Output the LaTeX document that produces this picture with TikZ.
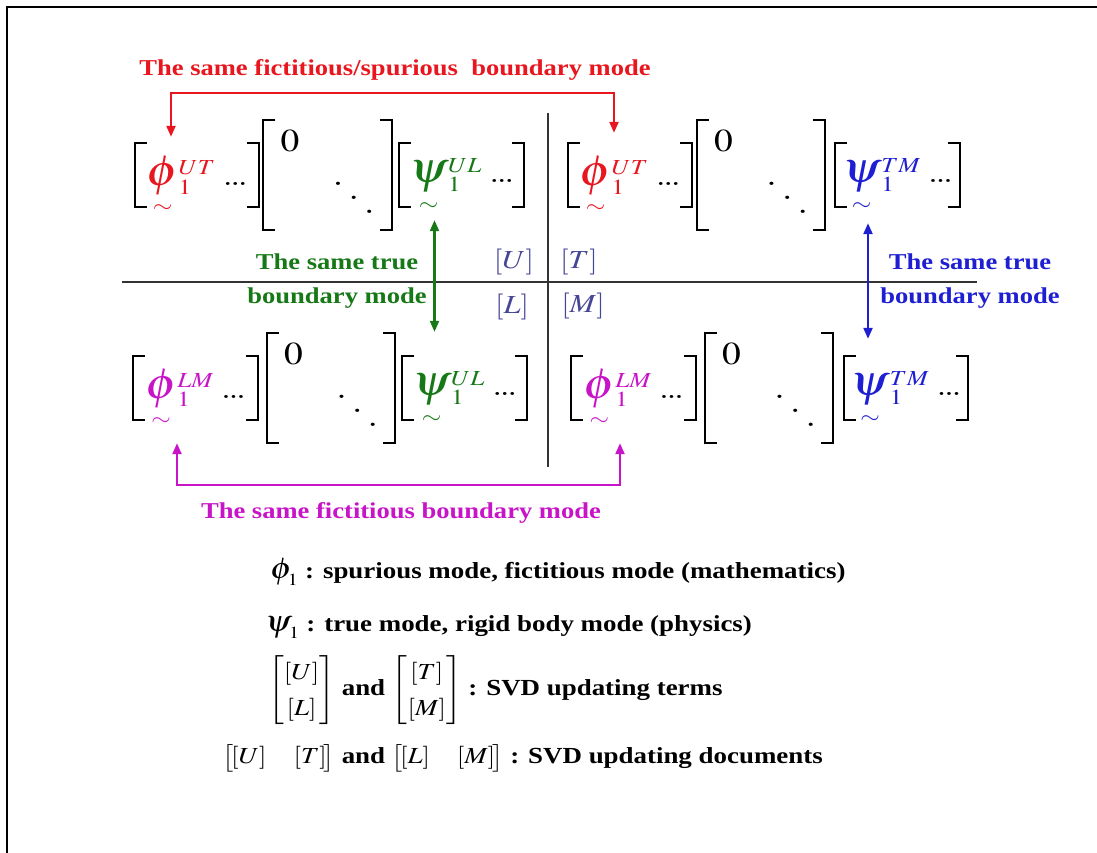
\documentclass[tikz,border=0pt]{standalone}
\usepackage{amsmath}
\usepackage{mathptmx}
\usepackage[no-math]{fontspec}
\setmainfont{Liberation Serif}[FakeStretch=1.17]
\usepackage{graphicx}
\usetikzlibrary{arrows.meta}

\definecolor{spurred}{RGB}{232,22,30}
\definecolor{truegreen}{RGB}{22,120,22}
\definecolor{trueblue}{RGB}{30,30,210}
\definecolor{fictmag}{RGB}{200,20,200}
\definecolor{blockblue}{RGB}{70,70,150}

\newcommand{\wide}[1]{\scalebox{1.17}[1]{#1}}
\newcommand{\bigsym}[2][1.5]{\mathord{\scalebox{#1}{$#2$}}}
\newcommand{\modev}[3]{{\color{#1}\smash[b]{\underset{\sim}{\bigsym{#2}}}_1^{#3}}}
\newcommand{\rdots}{\mathinner{{.}\mkern-1mu{.}\mkern-1mu{.}}}
\newcommand{\ddiag}{\mathinner{\raisebox{0.88em}{$.$}\mkern2.5mu\raisebox{0.44em}{$.$}\mkern2.5mu{.}}}
\newcommand{\zeromat}{\wide{$\begin{array}{@{}l@{\hspace{0.9em}}r@{}}0&\\[0.6em]&\ddiag\end{array}$}}

\begin{document}
\begin{tikzpicture}[x=1pt,y=-1pt,
  vec/.style={inner sep=0pt,minimum width=124pt,minimum height=64pt,font=\fontsize{29}{35}\selectfont},
  zero/.style={inner sep=0pt,minimum width=128pt,minimum height=110pt,font=\fontsize{32}{38}\selectfont},
  brk/.style={line width=1.8pt},
  note/.style={inner sep=0pt,align=center,font=\fontsize{22.7}{34}\selectfont\bfseries},
  legend/.style={inner sep=0pt,font=\fontsize{23}{28}\selectfont\bfseries},
  block/.style={inner sep=0pt,text=blockblue,font=\fontsize{26}{30}\selectfont},
  both/.style={line width=2.2pt,{Triangle[length=11pt,width=9pt]}-{Triangle[length=11pt,width=9pt]}},
  axisline/.style={line width=1.3pt,black!80}]
\useasboundingbox (0,0) rectangle (1097,853);
% frame
\draw[line width=2.4pt] (7,853) -- (7,6.8) -- (1097,6.8);

% upper blocks
\node[vec] (phiUTa) at (197,175) {\wide{$\modev{spurred}{\phi}{UT}\,\rdots$}};
\node[zero] (zeroA) at (327.5,175) {\zeromat};
\node[vec] (psiULa) at (461.5,175) {\wide{$\modev{truegreen}{\psi}{UL}\,\rdots$}};
\node[vec] (phiUTb) at (630,175) {\wide{$\modev{spurred}{\phi}{UT}\,\rdots$}};
\node[zero] (zeroB) at (761,175) {\zeromat};
\node[vec] (psiTMa) at (897.5,175) {\wide{$\modev{trueblue}{\psi}{TM}\,\rdots$}};

% lower blocks
\node[vec] (phiLMa) at (195.5,388) {\wide{$\modev{fictmag}{\phi}{LM}\,\rdots$}};
\node[zero] (zeroC) at (331,388) {\zeromat};
\node[vec] (psiULb) at (464.5,388) {\wide{$\modev{truegreen}{\psi}{UL}\,\rdots$}};
\node[vec] (phiLMb) at (633.5,388) {\wide{$\modev{fictmag}{\phi}{LM}\,\rdots$}};
\node[zero] (zeroD) at (769,388) {\zeromat};
\node[vec] (psiTMb) at (906,388) {\wide{$\modev{trueblue}{\psi}{TM}\,\rdots$}};

\foreach \m in {phiUTa,zeroA,psiULa,phiUTb,zeroB,psiTMa,phiLMa,zeroC,psiULb,phiLMb,zeroD,psiTMb}{
  \draw[brk] ([xshift=12pt]\m.north west) -| (\m.south west) -- ++(12,0);
  \draw[brk] ([xshift=-12pt]\m.north east) -| (\m.south east) -- ++(-12,0);
}

% block partition
\draw[axisline] (122,282) -- (977,282);
\draw[axisline] (548,113) -- (548,467);
\node[block] (blkU) at (514,262) {\wide{$[U]$}};
\node[block] (blkL) at (512,307) {\wide{$[L]$}};
\node[block] (blkT) at (579,262) {\wide{$[T]$}};
\node[block] (blkM) at (583,306) {\wide{$[M]$}};

% same modes
\node[note,text=spurred] (redtitle) at (395,70) {The same fictitious/spurious\ \ boundary mode};
\coordinate (redtop) at (400,93);
\draw[both,spurred] ([xshift=-26pt,yshift=6pt]phiUTa.north) |- (redtop) -| ([xshift=-16pt,yshift=10pt]phiUTb.north);

\node[note,text=truegreen] (greennote) at (337,281) {The same true\\boundary mode};
\draw[both,truegreen] ([xshift=-27pt,yshift=-13pt]psiULa.south) -- ([xshift=-30pt,yshift=24pt]psiULb.north);

\node[note,text=trueblue] (bluenote) at (970,281) {The same true\\boundary mode};
\draw[both,trueblue] ([xshift=-29.5pt,yshift=-16pt]psiTMa.south) -- ([xshift=-38pt,yshift=17pt]psiTMb.north);

\coordinate (magbot) at (400,485);
\draw[both,fictmag] ([xshift=-18.5pt,yshift=-23pt]phiLMa.south) |- (magbot) -| ([xshift=-13.5pt,yshift=-23pt]phiLMb.south);
\node[note,text=fictmag] (magtitle) at (401,513) {The same fictitious boundary mode};

% legend
\node[legend,anchor=west] (legphi) at (270,572) {\wide{${\bigsym[1.3]{\phi}\mkern-3mu}_1$} : spurious mode, fictitious mode (mathematics)};
\node[legend,anchor=west] (legpsi) at (265,627) {\wide{${\bigsym[1.3]{\psi}\mkern-2mu}_1$} : true mode, rigid body mode (physics)};
\node[legend,anchor=west] (legterms) at (268,690) {\renewcommand{\arraystretch}{1.3}\wide{$\begin{bmatrix}[U]\\{}[L]\end{bmatrix}$} and \wide{$\begin{bmatrix}[T]\\{}[M]\end{bmatrix}$} : SVD updating terms};
\node[legend,anchor=east] (legdocs) at (823,758) {\wide{$\bigl[\![U]\quad[T]\!\bigr]$} and \wide{$\bigl[\![L]\quad[M]\!\bigr]$} : SVD updating documents};
\end{tikzpicture}
\end{document}
